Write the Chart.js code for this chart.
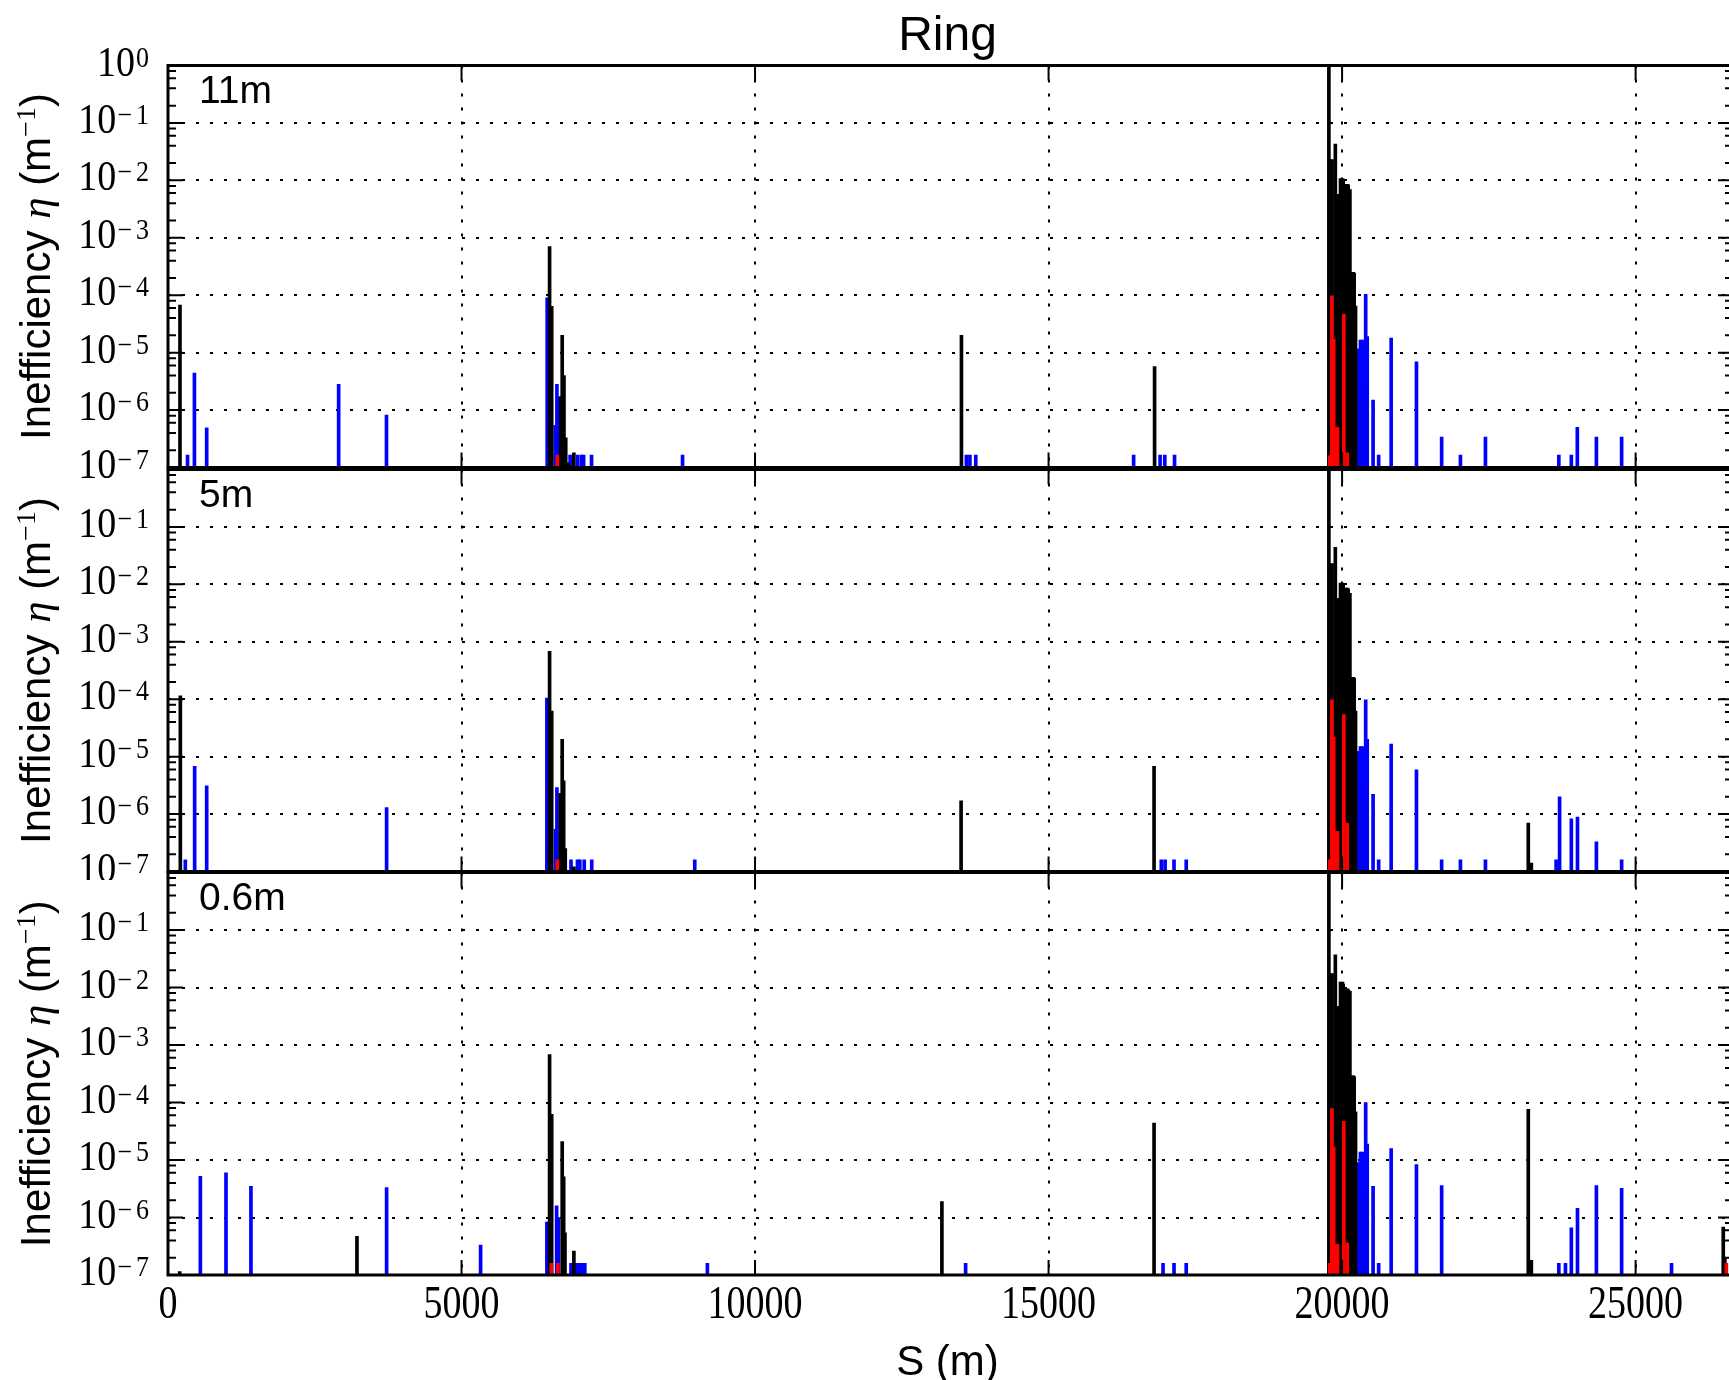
<!DOCTYPE html>
<html>
<head>
<meta charset="utf-8">
<title>Ring</title>
<script src="https://cdn.jsdelivr.net/npm/chart.js@4.4.1/dist/chart.umd.min.js"></script>
<style>
  html, body { margin: 0; padding: 0; background: #fff; overflow: hidden; width: 1729px; height: 1380px; }
  canvas { position: absolute; left: 0; }
</style>
</head>
<body>
<canvas id="panel11" width="1760" height="480" style="top:0px"></canvas>
<canvas id="panel5" width="1760" height="420" style="top:460px"></canvas>
<canvas id="panel06" width="1760" height="520" style="top:860px"></canvas>
<script>
// ---- axes ----
const RING_LENGTH = 26659;                       // m
const sTicks = [0, 5000, 10000, 15000, 20000, 25000];
const etaExponents = [-7, -6, -5, -4, -3, -2, -1, 0];
const minorMantissas = [2, 4, 6, 8];
const apertureLabels = ['11m', '5m', '0.6m'];

// ---- loss maps: [s (m), inefficiency (1/m)] ----
// beta* = 11 m
const coll11 = [
  [204, 6.7e-5], [6500, 7.0e-4], [6536, 6.4e-5], [6690, 1.7e-6], [6715, 2.0e-5], [6745, 4.0e-6],
  [6775, 3.3e-7], [6818, 1.2e-7], [6914, 1.8e-7], [13516, 2.0e-5], [16806, 5.7e-6], [19775, 1.0],
  [19795, 2.3e-2], [19812, 2.1e-2], [19829, 2.3e-2], [19885, 4.3e-2], [19930, 5.7e-3], [19973, 1.07e-2],
  [19990, 1.05e-2], [20007, 1.07e-2], [20019, 1.0e-2], [20060, 8.5e-3], [20077, 8.4e-3], [20094, 8.5e-3],
  [20104, 8.2e-3], [20133, 6.9e-3], [20175, 2.5e-4], [20192, 2.5e-4], [20206, 2.4e-4], [20229, 6.5e-5]
];
const warm11 = [
  [6631, 1.65e-7], [19790, 1.6e-7], [19826, 9.8e-5], [19857, 1.7e-5], [19893, 5.0e-7], [19922, 5.0e-7],
  [20030, 4.7e-5], [20087, 1.8e-7]
];
const cold11 = [
  [333, 1.65e-7], [450, 4.4e-6], [659, 4.9e-7], [2907, 2.8e-6], [3722, 8.2e-7], [6459, 9.0e-5],
  [6596, 5.4e-7], [6625, 2.8e-6], [6660, 1.7e-6], [6850, 1.65e-7], [6903, 1.65e-7], [6980, 1.65e-7],
  [7045, 1.65e-7], [7080, 1.65e-7], [7215, 1.65e-7], [8765, 1.65e-7], [13600, 1.65e-7], [13660, 1.65e-7],
  [13760, 1.65e-7], [16449, 1.65e-7], [16900, 1.65e-7], [16980, 1.65e-7], [17146, 1.65e-7],
  [20256, 1.15e-5], [20284, 1.15e-5], [20313, 1.65e-5], [20342, 1.65e-5], [20368, 3.7e-6], [20402, 1.04e-4],
  [20428, 1.9e-5], [20528, 1.5e-6], [20623, 1.65e-7], [20836, 1.8e-5], [21267, 6.9e-6], [21696, 3.4e-7],
  [22016, 1.65e-7], [22442, 3.4e-7], [23692, 1.65e-7], [23905, 1.65e-7], [24007, 5.0e-7], [24332, 3.4e-7],
  [24762, 3.4e-7]
];

// beta* = 5 m
const coll5 = [
  [210, 1.15e-4], [6500, 6.8e-4], [6536, 6.2e-5], [6681, 2.3e-6], [6715, 2.0e-5], [6740, 3.8e-6],
  [6767, 2.5e-7], [6914, 1.2e-7], [13510, 1.7e-6], [16797, 6.8e-6], [19775, 1.0],
  [19795, 2.3e-2], [19812, 2.1e-2], [19829, 2.3e-2], [19885, 4.4e-2], [19930, 5.7e-3], [19973, 1.05e-2],
  [19990, 1.03e-2], [20007, 1.05e-2], [20019, 1.0e-2], [20060, 8.6e-3], [20077, 8.4e-3], [20094, 8.6e-3],
  [20104, 8.2e-3], [20133, 7.0e-3], [20175, 2.4e-4], [20192, 2.4e-4], [20206, 2.3e-4], [20229, 6.2e-5],
  [23172, 7.0e-7], [23224, 1.4e-7]
];
const warm5 = [
  [6631, 1.6e-7], [19790, 1.6e-7], [19826, 9.8e-5], [19857, 2.2e-5], [19893, 5.0e-7], [19922, 5.0e-7],
  [20030, 5.4e-5], [20087, 7.0e-7]
];
const cold5 = [
  [295, 1.6e-7], [454, 6.8e-6], [659, 3.1e-6], [3724, 1.3e-6], [6454, 1.05e-4], [6600, 5.4e-7],
  [6625, 2.9e-6], [6865, 1.6e-7], [6975, 1.6e-7], [7015, 1.6e-7], [7090, 1.6e-7], [7218, 1.6e-7],
  [8973, 1.6e-7], [16920, 1.6e-7], [16985, 1.6e-7], [17137, 1.6e-7], [17345, 1.6e-7],
  [20256, 1.23e-5], [20284, 1.23e-5], [20313, 1.5e-5], [20342, 1.5e-5], [20368, 3.7e-6], [20402, 9.8e-5],
  [20428, 2.0e-5], [20528, 2.2e-6], [20623, 1.6e-7], [20836, 1.66e-5], [21267, 5.9e-6], [21696, 1.6e-7],
  [22016, 1.6e-7], [22442, 1.6e-7], [23646, 1.6e-7], [23705, 2.0e-6], [23905, 8.3e-7], [24010, 8.9e-7],
  [24332, 3.3e-7], [24762, 1.6e-7]
];

// beta* = 0.6 m
const coll06 = [
  [199, 1.15e-7], [3219, 4.7e-7], [6500, 6.8e-4], [6536, 6.2e-5], [6715, 2.1e-5], [6740, 5.1e-6],
  [6762, 5.4e-7], [6914, 2.6e-7], [13183, 1.9e-6], [16797, 4.4e-5], [19775, 1.0],
  [19795, 1.75e-2], [19812, 1.6e-2], [19829, 1.75e-2], [19885, 3.7e-2], [19930, 4.7e-3], [19973, 1.24e-2],
  [19990, 1.2e-2], [20007, 1.24e-2], [20019, 1.15e-2], [20060, 9.5e-3], [20077, 9.3e-3], [20094, 9.5e-3],
  [20104, 9.0e-3], [20133, 8.7e-3], [20175, 2.9e-4], [20192, 2.9e-4], [20206, 2.8e-4], [20229, 6.9e-5],
  [23172, 7.6e-5], [23224, 1.8e-7], [26493, 6.8e-7], [26520, 2.0e-7]
];
const warm06 = [
  [6528, 1.6e-7], [6642, 1.6e-7], [19790, 1.6e-7], [19826, 7.8e-5], [19857, 1.7e-5], [19893, 3.4e-7],
  [19922, 3.4e-7], [20030, 4.7e-5], [20087, 3.6e-7], [26545, 1.6e-7]
];
const cold06 = [
  [551, 5.2e-6], [988, 6.0e-6], [1413, 3.5e-6], [3724, 3.3e-6], [5325, 3.3e-7], [6454, 8.3e-7],
  [6620, 1.6e-6], [6650, 1.0e-6], [6865, 1.6e-7], [6915, 1.6e-7], [6965, 1.6e-7], [7015, 1.6e-7],
  [7065, 1.6e-7], [7100, 1.6e-7], [9188, 1.6e-7], [13587, 1.6e-7], [16950, 1.6e-7], [17137, 1.6e-7],
  [17345, 1.6e-7],
  [20256, 8.9e-6], [20284, 8.9e-6], [20313, 1.37e-5], [20342, 1.37e-5], [20368, 3.7e-6], [20402, 1.0e-4],
  [20428, 1.9e-5], [20528, 3.5e-6], [20623, 1.6e-7], [20836, 1.58e-5], [21267, 8.3e-6], [21696, 3.6e-6],
  [23692, 1.6e-7], [23805, 1.6e-7], [23905, 6.6e-7], [24010, 1.44e-6], [24332, 3.6e-6], [24762, 3.2e-6],
  [25612, 1.6e-7]
];

// ---- styling ----
const SERIF = '"Liberation Serif", "DejaVu Serif", serif';
const SANS = '"Liberation Sans", Arial, sans-serif';
const AXIS_LEFT = 168;     // width reserved for the η axis
const CANVAS_W = 1760;
const PLOT_RIGHT = 1733;

const panels = [
  { id: 'panel11', canvasH: 480, padTop: 65.5, padBottom: 12.5, coll: coll11, warm: warm11, cold: cold11,
    label: apertureLabels[0], first: true, last: false },
  { id: 'panel5', canvasH: 420, padTop: 9.5, padBottom: 8.5, coll: coll5, warm: warm5, cold: cold5,
    label: apertureLabels[1], first: false, last: false },
  { id: 'panel06', canvasH: 520, padTop: 12.5, padBottom: 105, coll: coll06, warm: warm06, cold: cold06,
    label: apertureLabels[2], first: false, last: true }
];

const toPoints = pairs => pairs.map(([s, eta]) => ({ x: s, y: eta }));

// text with a slight vertical stretch, as in the math-mode tick labels
function stretchedText(ctx, text, x, y, font, align, sy) {
  ctx.save();
  ctx.translate(x, y);
  ctx.scale(1, sy);
  ctx.font = font;
  ctx.textAlign = align;
  ctx.textBaseline = 'alphabetic';
  ctx.fillText(text, 0, 0);
  ctx.restore();
}

// "10" with a superscript exponent; the exponent minus is set a little apart
function drawPowerLabel(ctx, xRight, yTick, exp) {
  const base = '10';
  const digits = String(Math.abs(exp));
  const baseFont = `38px ${SERIF}`, supFont = `26px ${SERIF}`;
  ctx.font = baseFont; const wb = ctx.measureText(base).width;
  ctx.font = supFont;
  const wd = ctx.measureText(digits).width;
  const wm = exp < 0 ? ctx.measureText('\u2212').width + 4 : 0;
  const x0 = xRight - wd - wm - wb - 1;
  stretchedText(ctx, base, x0, yTick + 10, baseFont, 'left', 1.13);
  if (exp < 0) stretchedText(ctx, '\u2212', x0 + wb + 1, yTick + 1, supFont, 'left', 1.1);
  stretchedText(ctx, digits, x0 + wb + 1 + wm, yTick + 1, supFont, 'left', 1.1);
}

function drawEtaTitle(ctx, xBaseline, yCenter) {
  const parts = [
    { t: 'Inefficiency ', f: `42px ${SANS}`, dy: 0 },
    { t: '\u03b7', f: `italic 43px ${SERIF}`, dy: 0 },
    { t: ' (m', f: `42px ${SANS}`, dy: 0 },
    { t: '\u22121', f: `28px ${SERIF}`, dy: -15 },
    { t: ')', f: `42px ${SANS}`, dy: 0 }
  ];
  let total = 0;
  parts.forEach(p => { ctx.font = p.f; p.w = ctx.measureText(p.t).width; total += p.w; });
  ctx.save();
  ctx.translate(xBaseline, yCenter);
  ctx.rotate(-Math.PI / 2);
  ctx.textAlign = 'left';
  ctx.textBaseline = 'alphabetic';
  let cx = -total / 2;
  parts.forEach(p => { ctx.font = p.f; ctx.fillText(p.t, cx, p.dy); cx += p.w; });
  ctx.restore();
}

function framePlugin(panel) {
  return {
    id: 'frame',
    afterDraw(chart) {
      const { ctx, chartArea: a } = chart;
      const x = chart.scales.x, y = chart.scales.y;
      ctx.save();
      ctx.fillStyle = '#000';
      ctx.strokeStyle = '#000';

      // inward ticks on all four sides
      ctx.lineWidth = 2;
      ctx.beginPath();
      etaExponents.forEach(e => {
        const py = y.getPixelForValue(Math.pow(10, e));
        ctx.moveTo(a.left, py); ctx.lineTo(a.left + 15, py);
        ctx.moveTo(a.right, py); ctx.lineTo(a.right - 15, py);
        if (e < 0) {
          minorMantissas.forEach(m => {
            const pm = y.getPixelForValue(m * Math.pow(10, e));
            ctx.moveTo(a.left, pm); ctx.lineTo(a.left + 8, pm);
            ctx.moveTo(a.right, pm); ctx.lineTo(a.right - 8, pm);
          });
        }
      });
      sTicks.forEach(s => {
        const px = x.getPixelForValue(s);
        ctx.moveTo(px, a.bottom); ctx.lineTo(px, a.bottom - 15);
        ctx.moveTo(px, a.top); ctx.lineTo(px, a.top + 15);
      });
      ctx.stroke();

      // frame
      ctx.lineWidth = 3;
      ctx.strokeRect(a.left, a.top, a.right - a.left, a.bottom - a.top);

      // η tick labels
      etaExponents.forEach(e => {
        if (e === 0 && !panel.first) return;
        drawPowerLabel(ctx, 149, y.getPixelForValue(Math.pow(10, e)), e);
      });

      // η axis title
      drawEtaTitle(ctx, 50, (a.top + a.bottom) / 2);

      // aperture label
      ctx.font = `39px ${SANS}`;
      ctx.textAlign = 'left';
      ctx.textBaseline = 'alphabetic';
      ctx.fillText(panel.label, a.left + 31, a.top + 37);

      if (panel.first) {
        ctx.font = `48px ${SANS}`;
        ctx.textAlign = 'center';
        ctx.fillText('Ring', (a.left + a.right) / 2 - 3, 49.5);
      }
      if (panel.last) {
        sTicks.forEach(s => {
          stretchedText(ctx, String(s), x.getPixelForValue(s), a.bottom + 43, `38px ${SERIF}`, 'center', 1.22);
        });
        ctx.font = `42px ${SANS}`;
        ctx.textAlign = 'center';
        ctx.textBaseline = 'alphabetic';
        ctx.fillText('S (m)', (a.left + a.right) / 2 - 3, a.bottom + 100);
      }
      ctx.restore();
    }
  };
}

const gridStyle = { color: '#000', lineWidth: 2, drawTicks: false, offset: false };
const borderStyle = { display: false, dash: [3, 11] };

panels.forEach(panel => {
  new Chart(document.getElementById(panel.id), {
    type: 'bar',
    data: {
      datasets: [
        { label: 'Warm', data: toPoints(panel.warm), backgroundColor: '#ff0000', order: 0 },
        { label: 'Collimator', data: toPoints(panel.coll), backgroundColor: '#000000', order: 1 },
        { label: 'Cold', data: toPoints(panel.cold), backgroundColor: '#0000ff', order: 2 }
      ]
    },
    options: {
      responsive: false,
      animation: false,
      devicePixelRatio: 1,
      layout: { padding: { left: 0, right: CANVAS_W - PLOT_RIGHT, top: panel.padTop, bottom: panel.padBottom } },
      datasets: { bar: { barThickness: 3, grouped: false, borderWidth: 0 } },
      plugins: { legend: { display: false }, tooltip: { enabled: false }, title: { display: false } },
      scales: {
        x: {
          type: 'linear', min: 0, max: RING_LENGTH, offset: false,
          grid: gridStyle, border: borderStyle,
          ticks: { display: false },
          afterBuildTicks: s => { s.ticks = sTicks.map(v => ({ value: v })); },
          afterFit: s => { s.height = 0; }
        },
        y: {
          type: 'logarithmic', min: 1e-7, max: 1,
          grid: gridStyle, border: borderStyle,
          ticks: { display: false },
          afterBuildTicks: s => { s.ticks = etaExponents.map(e => ({ value: Math.pow(10, e) })); },
          afterFit: s => { s.width = AXIS_LEFT; }
        }
      }
    },
    plugins: [framePlugin(panel)]
  });
});
</script>
</body>
</html>
